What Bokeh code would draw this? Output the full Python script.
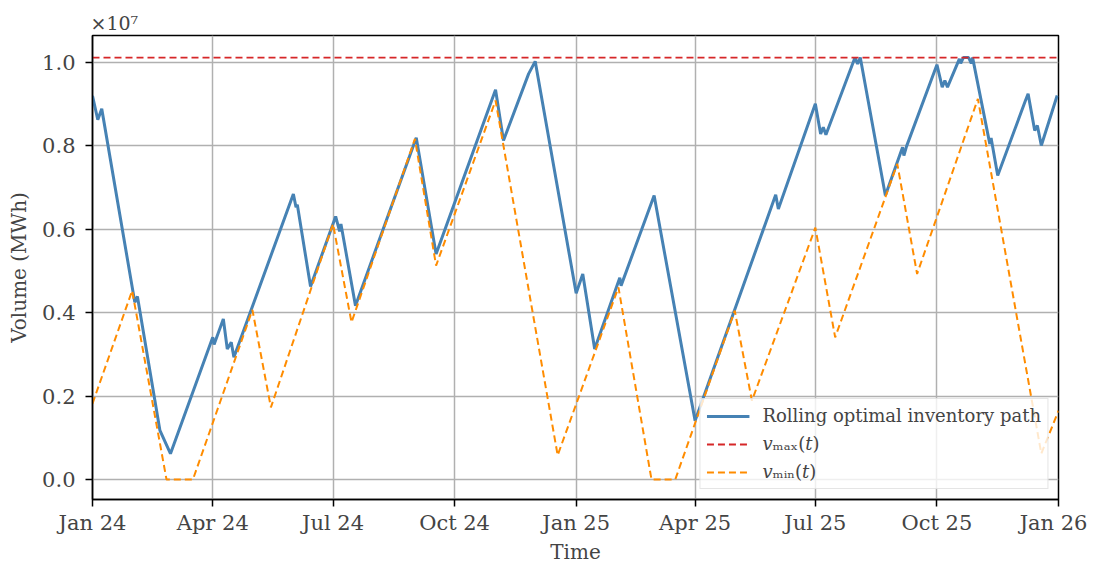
import pandas as pd
from bokeh.plotting import figure
from bokeh.models import (Range1d, FixedTicker, DatetimeTickFormatter,
                          CustomJSTickFormatter, Legend, LegendItem)
from bokeh.embed import file_html
from bokeh.resources import INLINE

# ---------------- data (volumes in MWh) ----------------
path_dates = ["2024-01-01", "2024-01-05", "2024-01-08", "2024-02-02", "2024-02-04",
              "2024-02-21", "2024-02-29", "2024-04-01", "2024-04-02", "2024-04-09",
              "2024-04-12", "2024-04-15", "2024-04-17", "2024-06-01", "2024-06-03",
              "2024-06-04", "2024-06-14", "2024-07-03", "2024-07-06", "2024-07-07",
              "2024-07-18", "2024-09-02", "2024-09-17", "2024-11-01", "2024-11-07",
              "2024-11-26", "2024-12-01", "2025-01-01", "2025-01-06", "2025-01-15",
              "2025-02-03", "2025-02-04", "2025-03-01", "2025-04-01", "2025-06-01",
              "2025-06-03", "2025-07-01", "2025-07-05", "2025-07-07", "2025-07-09",
              "2025-07-31", "2025-08-02", "2025-08-04", "2025-08-05", "2025-08-23",
              "2025-09-05", "2025-09-06", "2025-09-08", "2025-10-01", "2025-10-05",
              "2025-10-07", "2025-10-09", "2025-10-18", "2025-10-19", "2025-10-21",
              "2025-10-25", "2025-10-27", "2025-10-28", "2025-11-10", "2025-11-11",
              "2025-11-16", "2025-12-07", "2025-12-09", "2025-12-14", "2025-12-16",
              "2025-12-19", "2025-12-31"]
path_values = [9.20e6, 8.63e6, 8.89e6, 4.25e6, 4.39e6,
               1.18e6, 0.62e6, 3.41e6, 3.24e6, 3.85e6,
               3.13e6, 3.29e6, 2.93e6, 6.85e6, 6.53e6,
               6.59e6, 4.63e6, 6.31e6, 5.95e6, 6.13e6,
               4.17e6, 8.20e6, 5.41e6, 9.35e6, 8.13e6,
               9.73e6, 10.03e6, 4.47e6, 4.93e6, 3.13e6,
               4.84e6, 4.65e6, 6.81e6, 1.41e6, 6.83e6,
               6.49e6, 9.01e6, 8.29e6, 8.45e6, 8.27e6,
               10.12e6, 9.97e6, 10.12e6, 9.95e6, 6.81e6,
               7.97e6, 7.77e6, 7.99e6, 9.95e6, 9.41e6,
               9.57e6, 9.41e6, 10.09e6, 9.98e6, 10.12e6,
               10.12e6, 9.98e6, 10.12e6, 8.05e6, 8.19e6,
               7.29e6, 9.09e6, 9.25e6, 8.37e6, 8.49e6,
               8.01e6, 9.21e6]

vmin_dates = ["2024-01-01", "2024-01-31", "2024-02-26", "2024-03-17", "2024-05-01",
              "2024-05-15", "2024-07-01", "2024-07-15", "2024-09-01", "2024-09-17",
              "2024-11-01", "2024-12-18", "2025-02-02", "2025-02-27", "2025-03-17",
              "2025-05-01", "2025-05-14", "2025-07-01", "2025-07-16", "2025-09-01",
              "2025-09-16", "2025-11-01", "2025-12-19", "2026-01-01"]
vmin_values = [1.82e6, 4.53e6, 0.0, 0.0, 4.07e6,
               1.73e6, 6.13e6, 3.77e6, 8.17e6, 5.13e6,
               9.09e6, 0.58e6, 4.61e6, 0.0, 0.0,
               4.05e6, 1.89e6, 6.04e6, 3.41e6, 7.57e6,
               4.93e6, 9.13e6, 0.62e6, 1.65e6]

vmax_dates = ["2024-01-01", "2026-01-01"]
vmax_values = [10.12e6, 10.12e6]

x_tick_dates = ["2024-01-01", "2024-04-01", "2024-07-01", "2024-10-01", "2025-01-01",
                "2025-04-01", "2025-07-01", "2025-10-01", "2026-01-01"]
y_ticks = [0, 2e6, 4e6, 6e6, 8e6, 1e7]

# ---------------- figure ----------------
FONT = "DejaVu Serif"

p = figure(width=1087, height=567, x_axis_type="datetime",
           output_backend="svg", toolbar_location=None,
           x_range=Range1d(pd.Timestamp("2024-01-01"), pd.Timestamp("2026-01-01")),
           y_range=Range1d(-0.48e6, 10.65e6),
           min_border_left=92, min_border_right=29, min_border_top=35,
           min_border_bottom=68)

p.title.text = "×10⁷"
p.title.align = "left"
p.title.text_font = FONT
p.title.text_font_size = "19px"
p.title.text_font_style = "normal"
p.title.offset = -2
p.title.standoff = 3

p.outline_line_color = "black"
p.outline_line_width = 1.5
p.background_fill_color = "white"
p.border_fill_color = "white"

r_path = p.line([pd.Timestamp(d) for d in path_dates], path_values,
                line_color="#4682b4", line_width=3.0)
r_vmax = p.line([pd.Timestamp(d) for d in vmax_dates], vmax_values,
                line_color="#d62728", line_width=1.8, line_dash="7 4")
r_vmin = p.line([pd.Timestamp(d) for d in vmin_dates], vmin_values,
                line_color="#ff8c00", line_width=2.0, line_dash="7 4")

# axes
xt = [pd.Timestamp(d).value // 10**6 for d in x_tick_dates]
p.xaxis.ticker = FixedTicker(ticks=xt)
fmt = "%b %y"
p.xaxis.formatter = DatetimeTickFormatter(
    microseconds=fmt, milliseconds=fmt, seconds=fmt, minsec=fmt, minutes=fmt,
    hourmin=fmt, hours=fmt, days=fmt, months=fmt, years=fmt)
p.yaxis.ticker = FixedTicker(ticks=y_ticks)
p.yaxis.formatter = CustomJSTickFormatter(code="return (tick/1e7).toFixed(1);")

for ax in (p.xaxis, p.yaxis):
    ax.major_label_text_font = FONT
    ax.major_label_text_font_size = "21px"
    ax.axis_label_text_font = FONT
    ax.axis_label_text_font_size = "20px"
    ax.axis_label_text_font_style = "normal"
    ax.axis_line_color = "black"
    ax.axis_line_width = 1.5
    ax.major_tick_line_color = "black"
    ax.major_tick_line_width = 1.5
    ax.major_tick_out = 7
    ax.major_tick_in = 0
    ax.minor_tick_line_color = None

p.xaxis.major_label_standoff = 4
p.yaxis.major_label_standoff = 10
p.xaxis.axis_label = "Time"
p.yaxis.axis_label = "Volume (MWh)"
p.xaxis.axis_label_standoff = 2
p.yaxis.axis_label_standoff = 8

p.grid.grid_line_color = "#b0b0b0"
p.grid.grid_line_width = 1.5

legend = Legend(items=[
    LegendItem(label="Rolling optimal inventory path", renderers=[r_path]),
    LegendItem(label="𝑣ₘₐₓ(𝑡)", renderers=[r_vmax]),
    LegendItem(label="𝑣ₘᵢₙ(𝑡)", renderers=[r_vmin]),
], location="bottom_right")
legend.label_text_font = FONT
legend.label_text_font_size = "18px"
legend.label_standoff = 13
legend.glyph_width = 43
legend.glyph_height = 20
legend.label_height = 20
legend.spacing = 7
legend.padding = 6
legend.margin = 10
legend.background_fill_color = "white"
legend.background_fill_alpha = 0.8
legend.border_line_color = "#cccccc"
legend.border_line_width = 1.5
p.add_layout(legend)

open("out.html", "w").write(file_html(p, INLINE))
